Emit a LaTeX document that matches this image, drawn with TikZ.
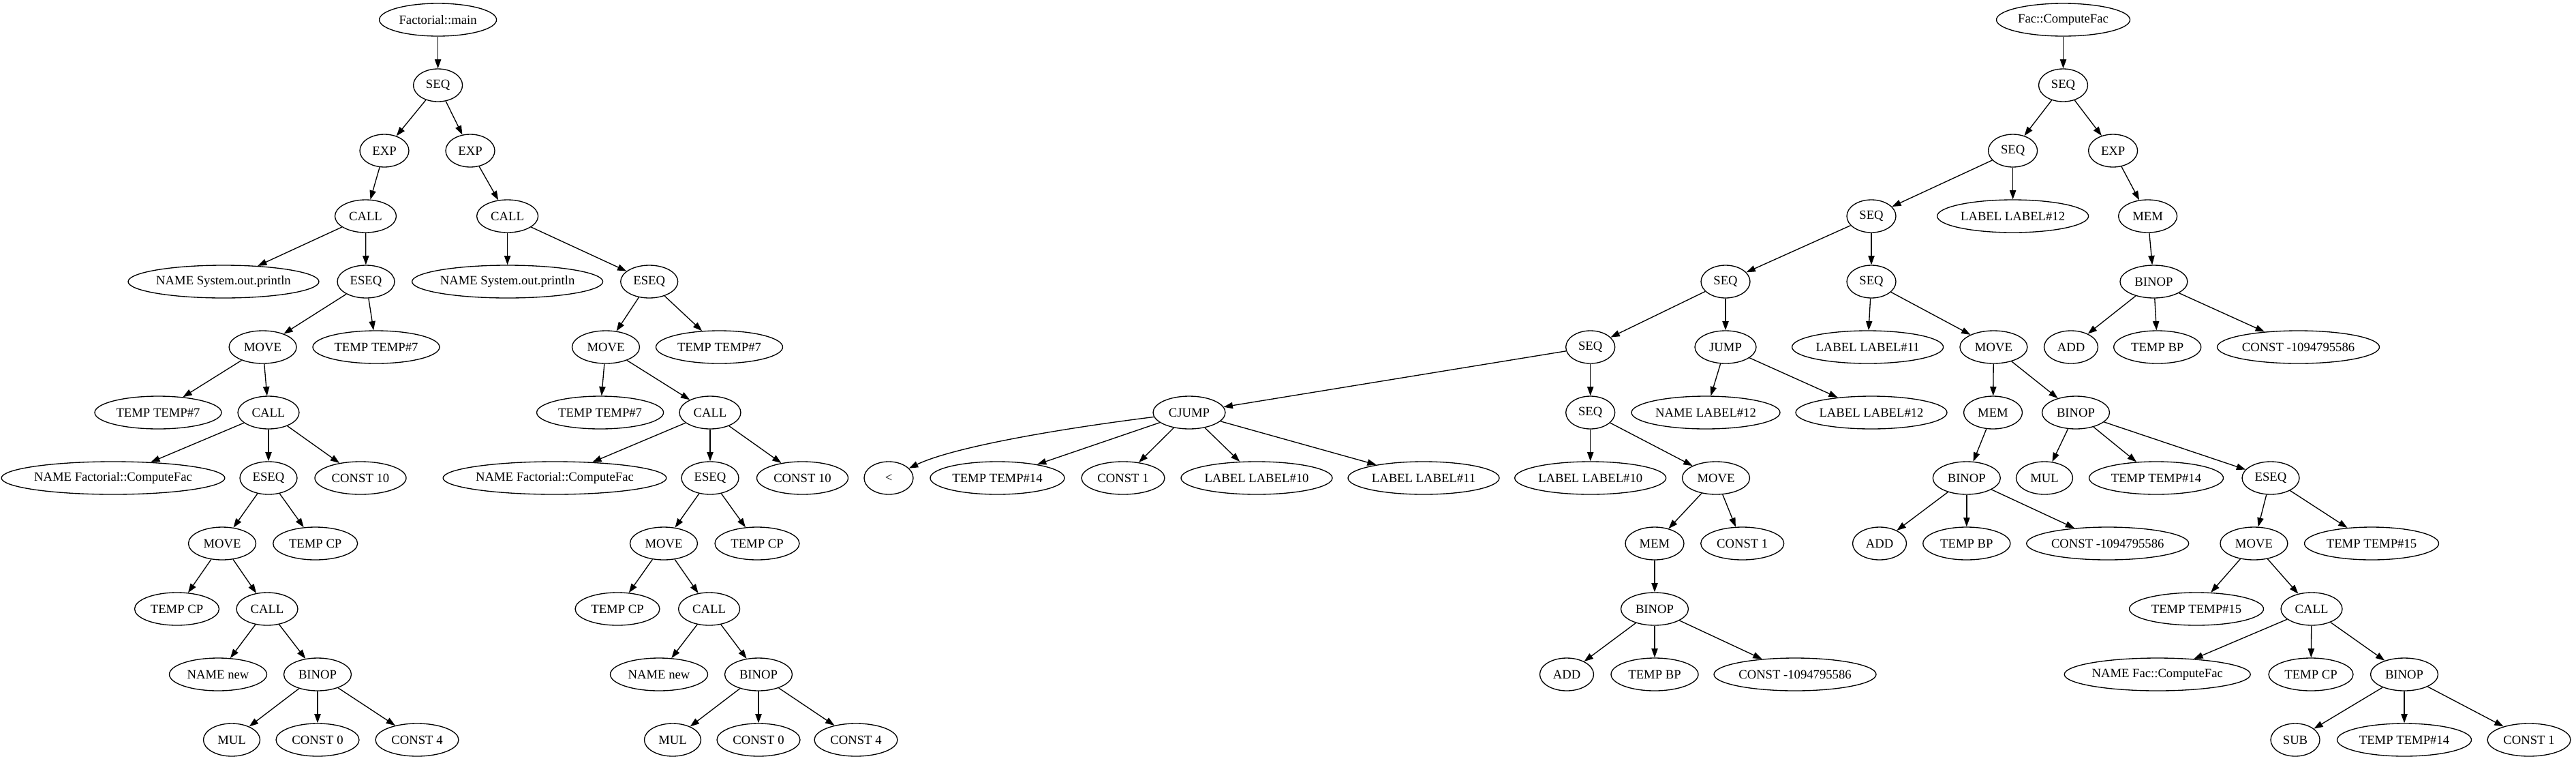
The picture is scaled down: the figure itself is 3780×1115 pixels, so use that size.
\documentclass[tikz,border=0pt]{standalone}
\usepackage{fontspec}
\setmainfont{Liberation Serif}
\usetikzlibrary{shapes.geometric,arrows.meta}
\tikzset{
  nd/.style={ellipse, draw, line width=1pt, minimum height=36pt, inner sep=0pt,
    minimum width=#1*0.75pt, font=\fontsize{14pt}{16pt}\selectfont},
  arr/.style={line width=1pt, -{Triangle[length=10pt,width=7pt]}}
}
\begin{document}
\begin{tikzpicture}[x=0.75pt,y=-0.75pt]
\useasboundingbox (0,0) rectangle (3780,1115);
% ---------- Factorial::main ----------
\node[nd=172] (a0) at (642.6,29) {Factorial::main};
\node[nd=72] (a1) at (642.6,125) {SEQ};
\node[nd=72] (a2) at (564,221) {EXP};
\node[nd=72] (a3) at (690,221) {EXP};
\node[nd=90] (a4) at (536.5,317) {CALL};
\node[nd=90] (a5) at (744.6,317) {CALL};
\node[nd=280] (a6) at (328,413) {NAME System.out.println};
\node[nd=84] (a7) at (537,413) {ESEQ};
\node[nd=280] (a8) at (744.6,413) {NAME System.out.println};
\node[nd=84] (a9) at (952.7,413) {ESEQ};
\node[nd=99] (a10) at (385.6,509) {MOVE};
\node[nd=186] (a11) at (552,509) {TEMP TEMP\#7};
\node[nd=99] (a12) at (889,509) {MOVE};
\node[nd=186] (a13) at (1055.5,509) {TEMP TEMP\#7};
\node[nd=186] (a14) at (232,605) {TEMP TEMP\#7};
\node[nd=90] (a15) at (394,605) {CALL};
\node[nd=186] (a16) at (880.6,605) {TEMP TEMP\#7};
\node[nd=90] (a17) at (1042,605) {CALL};
\node[nd=320] (a18) at (166,701) {NAME Factorial::ComputeFac};
\node[nd=84] (a19) at (394,701) {ESEQ};
\node[nd=134] (a20) at (529,701) {CONST 10};
\node[nd=320] (a21) at (814,701) {NAME Factorial::ComputeFac};
\node[nd=84] (a22) at (1042,701) {ESEQ};
\node[nd=134] (a23) at (1177.5,701) {CONST 10};
\node[nd=99] (a24) at (326,797) {MOVE};
\node[nd=124] (a25) at (462.7,797) {TEMP CP};
\node[nd=99] (a26) at (974,797) {MOVE};
\node[nd=124] (a27) at (1111,797) {TEMP CP};
\node[nd=124] (a28) at (259.5,893) {TEMP CP};
\node[nd=90] (a29) at (392,893) {CALL};
\node[nd=124] (a30) at (906,893) {TEMP CP};
\node[nd=90] (a31) at (1040.6,893) {CALL};
\node[nd=143] (a32) at (320,989) {NAME new};
\node[nd=99] (a33) at (466,989) {BINOP};
\node[nd=143] (a34) at (967,989) {NAME new};
\node[nd=99] (a35) at (1113,989) {BINOP};
\node[nd=83] (a36) at (340,1085) {MUL};
\node[nd=122] (a37) at (466,1085) {CONST 0};
\node[nd=122] (a38) at (612,1085) {CONST 4};
\node[nd=83] (a39) at (987,1085) {MUL};
\node[nd=122] (a40) at (1113,1085) {CONST 0};
\node[nd=122] (a41) at (1256,1085) {CONST 4};
\foreach \p/\c in {a0/a1,a1/a2,a1/a3,a2/a4,a3/a5,a4/a6,a4/a7,a5/a8,a5/a9,
  a7/a10,a7/a11,a9/a12,a9/a13,a10/a14,a10/a15,a12/a16,a12/a17,
  a15/a18,a15/a19,a15/a20,a17/a21,a17/a22,a17/a23,a19/a24,a19/a25,a22/a26,a22/a27,
  a24/a28,a24/a29,a26/a30,a26/a31,a29/a32,a29/a33,a31/a34,a31/a35,
  a33/a36,a33/a37,a33/a38,a35/a39,a35/a40,a35/a41}
  \draw[arr] (\p) -- (\c);
% ---------- Fac::ComputeFac ----------
\node[nd=196] (b0) at (3027.5,29) {Fac::ComputeFac};
\node[nd=72] (b1) at (3027.5,125) {SEQ};
\node[nd=72] (b2) at (2953.6,221) {SEQ};
\node[nd=72] (b3) at (3100.6,221) {EXP};
\node[nd=72] (b4) at (2746,317) {SEQ};
\node[nd=222] (b5) at (2953.6,317) {LABEL LABEL\#12};
\node[nd=86] (b6) at (3151.6,317) {MEM};
\node[nd=72] (b7) at (2532,413) {SEQ};
\node[nd=72] (b8) at (2746,413) {SEQ};
\node[nd=99] (b9) at (3160.4,413) {BINOP};
\node[nd=72] (b10) at (2333.7,509) {SEQ};
\node[nd=90] (b11) at (2532,509) {JUMP};
\node[nd=222] (b12) at (2740.6,509) {LABEL LABEL\#11};
\node[nd=99] (b13) at (2925.4,509) {MOVE};
\node[nd=79] (b14) at (3039,509) {ADD};
\node[nd=128] (b15) at (3165.7,509) {TEMP BP};
\node[nd=238] (b16) at (3372.5,509) {CONST -1094795586};
\node[nd=106] (b17) at (1745,605) {CJUMP};
\node[nd=72] (b18) at (2333.7,605) {SEQ};
\node[nd=218] (b19) at (2503,605) {NAME LABEL\#12};
\node[nd=222] (b20) at (2746,605) {LABEL LABEL\#12};
\node[nd=86] (b21) at (2924.5,605) {MEM};
\node[nd=99] (b22) at (3046,605) {BINOP};
\node[nd=72] (b23) at (1304,701) {<};
\node[nd=197] (b24) at (1463.5,701) {TEMP TEMP\#14};
\node[nd=122] (b25) at (1648,701) {CONST 1};
\node[nd=222] (b26) at (1844,701) {LABEL LABEL\#10};
\node[nd=222] (b27) at (2089,701) {LABEL LABEL\#11};
\node[nd=222] (b28) at (2333.7,701) {LABEL LABEL\#10};
\node[nd=99] (b29) at (2518,701) {MOVE};
\node[nd=99] (b30) at (2885.8,701) {BINOP};
\node[nd=83] (b31) at (3000,701) {MUL};
\node[nd=197] (b32) at (3164,701) {TEMP TEMP\#14};
\node[nd=84] (b33) at (3332,701) {ESEQ};
\node[nd=86] (b34) at (2428,797) {MEM};
\node[nd=122] (b35) at (2556.7,797) {CONST 1};
\node[nd=79] (b36) at (2758,797) {ADD};
\node[nd=128] (b37) at (2885.8,797) {TEMP BP};
\node[nd=238] (b38) at (3092.7,797) {CONST -1094795586};
\node[nd=99] (b39) at (3307.4,797) {MOVE};
\node[nd=197] (b40) at (3480,797) {TEMP TEMP\#15};
\node[nd=99] (b41) at (2428,893) {BINOP};
\node[nd=197] (b42) at (3223,893) {TEMP TEMP\#15};
\node[nd=90] (b43) at (3392,893) {CALL};
\node[nd=79] (b44) at (2299,989) {ADD};
\node[nd=128] (b45) at (2428,989) {TEMP BP};
\node[nd=238] (b46) at (2634,989) {CONST -1094795586};
\node[nd=273] (b47) at (3165.7,989) {NAME Fac::ComputeFac};
\node[nd=124] (b48) at (3391,989) {TEMP CP};
\node[nd=99] (b49) at (3528,989) {BINOP};
\node[nd=72] (b50) at (3368,1085) {SUB};
\node[nd=197] (b51) at (3528,1085) {TEMP TEMP\#14};
\node[nd=122] (b52) at (3711,1085) {CONST 1};
\foreach \p/\c in {b0/b1,b1/b2,b1/b3,b2/b4,b2/b5,b3/b6,b4/b7,b4/b8,b6/b9,
  b7/b10,b7/b11,b8/b12,b8/b13,b9/b14,b9/b15,b9/b16,b10/b17,b10/b18,
  b11/b19,b11/b20,b13/b21,b13/b22,
  b17/b24,b17/b25,b17/b26,b17/b27,b18/b28,b18/b29,b21/b30,
  b22/b31,b22/b32,b22/b33,b29/b34,b29/b35,b30/b36,b30/b37,b30/b38,
  b33/b39,b33/b40,b34/b41,b39/b42,b39/b43,b41/b44,b41/b45,b41/b46,
  b43/b47,b43/b48,b43/b49,b49/b50,b49/b51,b49/b52}
  \draw[arr] (\p) -- (\c);
\draw[arr] (b17) .. controls (1560,628) and (1400,655) .. (b23);
\end{tikzpicture}
\end{document}
